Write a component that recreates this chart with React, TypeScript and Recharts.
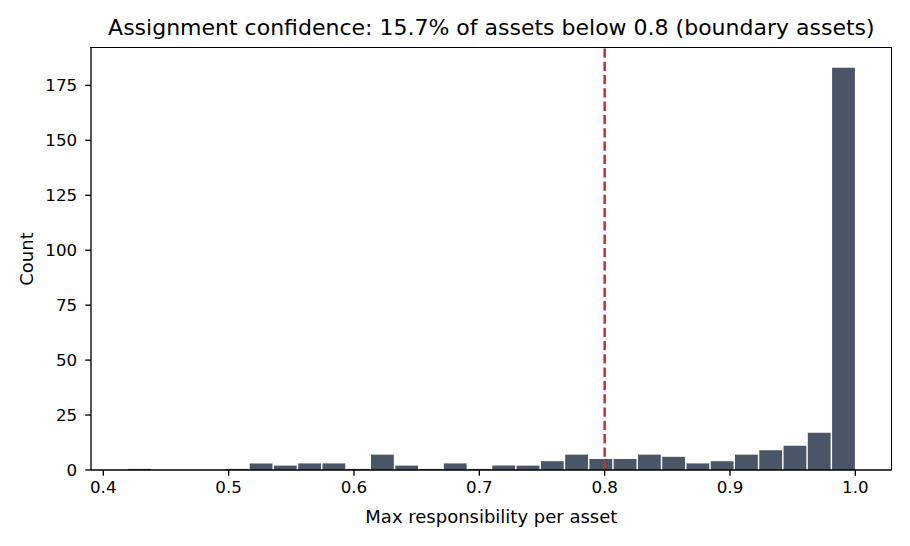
import React from "react";
import {
  ComposedChart,
  Bar,
  XAxis,
  YAxis,
  ReferenceLine,
} from "recharts";

// Histogram of max responsibility per asset (30 equal-width bins)
const BIN_MIN = 0.4192;
const BIN_MAX = 1.0;
const binCounts = [
  0.5, 0, 0, 0, 0.5, 3, 2, 3, 3, 0.5,
  7, 2, 0.5, 3, 0.5, 2, 2, 4, 7, 5,
  5, 7, 6, 3, 4, 7, 9, 11, 17, 183,
];
const xTicks = [0.4, 0.5, 0.6, 0.7, 0.8, 0.9, 1.0];
const yTicks = [0, 25, 50, 75, 100, 125, 150, 175];
const THRESHOLD = 0.8;
const X_DOMAIN: [number, number] = [0.3902, 1.029];
const Y_DOMAIN: [number, number] = [0, 192.15];

const TITLE = "Assignment confidence: 15.7% of assets below 0.8 (boundary assets)";
const X_LABEL = "Max responsibility per asset";
const Y_LABEL = "Count";

const binWidth = (BIN_MAX - BIN_MIN) / binCounts.length;
const data = binCounts.map((count, i) => ({
  x: BIN_MIN + (i + 0.5) * binWidth,
  count,
}));

// Plot box geometry (px)
const PLOT = { left: 91, top: 47.7, right: 891.7, bottom: 470 };

const FONT = "'DejaVu Sans', sans-serif";
const spine = { stroke: "#000", strokeWidth: 1.33 };
const tickStyle = { fill: "#000", fontSize: 16.7, fontFamily: FONT };

export default function App() {
  const plotCenterX = (PLOT.left + PLOT.right) / 2;
  return (
    <div
      style={{
        position: "absolute",
        left: 0,
        top: 0,
        width: 910,
        height: 546,
        background: "#fff",
        fontFamily: FONT,
      }}
    >
      <ComposedChart
        width={910}
        height={546}
        data={data}
        margin={{ top: PLOT.top, right: 910 - PLOT.right, bottom: 0, left: 0 }}
      >
        <XAxis
          dataKey="x"
          type="number"
          domain={X_DOMAIN}
          allowDataOverflow
          ticks={xTicks}
          tickFormatter={(v: number) => v.toFixed(1)}
          height={546 - PLOT.bottom}
          axisLine={spine}
          tickLine={spine}
          tickSize={5.8}
          tickMargin={5}
          tick={tickStyle}
          interval={0}
        />
        <YAxis
          type="number"
          domain={Y_DOMAIN}
          allowDataOverflow
          ticks={yTicks}
          width={PLOT.left}
          axisLine={spine}
          tickLine={spine}
          tickSize={5.8}
          tickMargin={8}
          tick={tickStyle}
          interval={0}
        />
        <Bar
          dataKey="count"
          fill="#4a5568"
          barSize={22.8}
          isAnimationActive={false}
        />
        <ReferenceLine
          x={THRESHOLD}
          stroke="#c53030"
          strokeWidth={2.5}
          strokeDasharray="9.3 4"
        />
      </ComposedChart>
      {/* top and right spines */}
      <div
        style={{
          position: "absolute",
          left: PLOT.left - 0.665,
          top: PLOT.top - 0.665,
          width: PLOT.right - PLOT.left,
          height: PLOT.bottom - PLOT.top,
          borderTop: "1.33px solid #000",
          borderRight: "1.33px solid #000",
          pointerEvents: "none",
        }}
      />
      <div
        style={{
          position: "absolute",
          left: plotCenterX - 450,
          width: 900,
          top: 17.4,
          textAlign: "center",
          fontSize: 22,
          lineHeight: "22px",
          whiteSpace: "nowrap",
          color: "#000",
        }}
      >
        {TITLE}
      </div>
      <div
        style={{
          position: "absolute",
          left: plotCenterX - 300,
          width: 600,
          top: 507.8,
          textAlign: "center",
          fontSize: 18,
          lineHeight: "18px",
          whiteSpace: "nowrap",
          color: "#000",
        }}
      >
        {X_LABEL}
      </div>
      <div
        style={{
          position: "absolute",
          left: 27.3,
          top: 259,
          transform: "translate(-50%, -50%) rotate(-90deg)",
          fontSize: 18,
          lineHeight: "18px",
          whiteSpace: "nowrap",
          color: "#000",
        }}
      >
        {Y_LABEL}
      </div>
    </div>
  );
}
